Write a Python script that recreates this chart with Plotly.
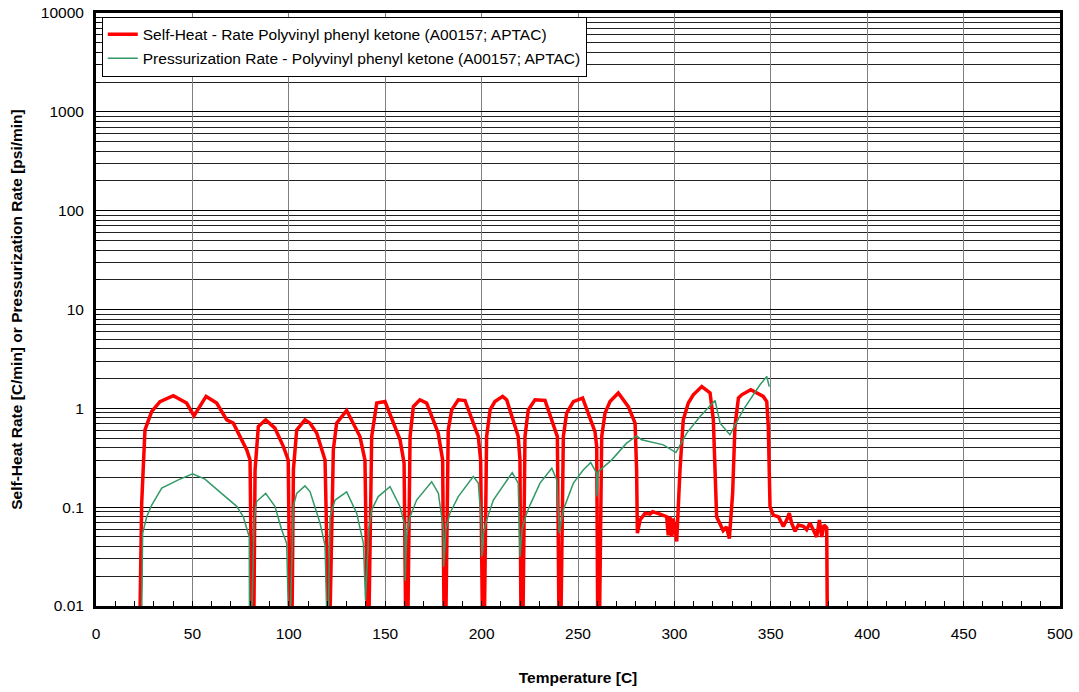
import plotly.graph_objects as go

# ---------------- data ----------------
heat_T = [22.8, 23.7, 25.4, 28.9, 33.2, 40.1, 47.0, 50.8, 57.1, 62.6, 67.8, 71.2, 78.2, 79.9, 80.8,
          81.9, 82.5, 84.2, 88.0, 92.8, 97.2, 99.7, 100.6,
          101.7, 102.4, 104.1, 108.4, 111.0, 114.5, 118.8, 120.5,
          121.4, 123.1, 124.8, 130.0, 136.9, 139.5, 140.7,
          141.6, 143.0, 145.6, 149.9, 157.7, 159.8, 160.6,
          161.8, 162.9, 164.6, 168.0, 171.5, 177.5, 179.8, 180.5,
          181.5, 182.7, 184.5, 187.9, 191.4, 198.3, 199.5, 200.4,
          201.5, 202.6, 204.4, 206.9, 210.9, 213.0, 219.0, 219.9, 220.4,
          221.5, 222.5, 224.2, 227.7, 232.9, 238.1, 239.3, 240.1,
          241.2, 242.4, 244.1, 247.6, 252.4, 258.8, 259.7, 260.2,
          261.2, 262.3, 264.0, 266.6, 270.9, 276.1, 279.6, 280.4, 280.8, 282.2, 284.8, 287.3,
          288.7, 292.5, 296.0, 296.8, 297.7, 298.6, 299.4, 301.2, 302.9, 304.6, 307.2, 309.8,
          314.2, 318.5, 320.2, 321.9, 323.7, 325.3, 327.0, 328.5, 330.2, 331.4, 333.2, 334.9,
          339.6, 346.1, 347.9, 348.7, 349.6, 351.3, 353.9, 356.5, 358.2, 359.6, 360.8, 362.6,
          364.3, 366.9, 368.6, 370.3, 372.0, 373.8, 375.2, 376.4, 377.6, 379.0, 379.3]
heat_rate = [0.008, 0.11, 0.606, 0.93, 1.17, 1.34, 1.13, 0.84, 1.32, 1.13, 0.765, 0.708, 0.38, 0.30, 0.008,
             0.008, 0.238, 0.655, 0.765, 0.63, 0.41, 0.30, 0.008,
             0.008, 0.24, 0.606, 0.765, 0.708, 0.561, 0.30, 0.008,
             0.008, 0.38, 0.708, 0.95, 0.518, 0.30, 0.008,
             0.008, 0.518, 1.13, 1.17, 0.48, 0.279, 0.008,
             0.008, 0.518, 1.04, 1.22, 1.13, 0.561, 0.30, 0.008,
             0.008, 0.606, 0.966, 1.22, 1.2, 0.518, 0.30, 0.008,
             0.008, 0.518, 0.966, 1.17, 1.32, 1.22, 0.518, 0.30, 0.008,
             0.008, 0.518, 0.966, 1.22, 1.2, 0.606, 0.518, 0.008,
             0.008, 0.518, 0.894, 1.17, 1.27, 0.582, 0.41, 0.008,
             0.008, 0.518, 0.894, 1.17, 1.43, 1.04, 0.708, 0.238, 0.0545, 0.074, 0.087, 0.085,
             0.090, 0.085, 0.080, 0.052, 0.080, 0.050, 0.077, 0.045, 0.238, 0.765, 1.13, 1.37,
             1.66, 1.43, 0.765, 0.080, 0.069, 0.058, 0.063, 0.048, 0.138, 0.655, 1.27, 1.37,
             1.54, 1.32, 1.17, 0.655, 0.101, 0.083, 0.080, 0.064, 0.074, 0.087, 0.069, 0.057,
             0.066, 0.064, 0.059, 0.069, 0.059, 0.050, 0.074, 0.050, 0.066, 0.062, 0.008]

press_T = [23.7, 24.2, 26.3, 28.9, 34.1, 42.7, 50.1, 56.5, 66.0, 73.0, 76.4, 79.5, 79.6,
           80.8, 82.0, 83.3, 88.0, 92.8, 96.3, 98.9, 99.8,
           100.8, 102.3, 104.1, 108.4, 111.0, 116.2, 118.8, 119.7,
           120.5, 121.4, 124.0, 130.0, 135.2, 138.7, 139.8,
           141.5, 143.0, 146.4, 152.5, 157.7, 160.3, 160.4,
           161.0, 162.9, 166.3, 174.1, 177.6, 180.2, 180.3,
           181.5, 183.6, 187.9, 195.7, 198.3, 200.0, 200.1,
           201.0, 202.6, 206.1, 215.9, 219.0, 219.9,
           221.0, 223.4, 225.1, 230.3, 236.4, 239.0, 240.3,
           242.4, 247.6, 252.7, 256.6, 259.7, 259.8, 260.5, 267.5, 275.2, 280.4, 283.0,
           287.3, 294.3, 300.8, 306.4, 313.3, 321.1, 323.7, 328.8, 335.7, 344.4, 347.9, 349.2]
press_rate = [0.008, 0.0545, 0.080, 0.105, 0.156, 0.189, 0.217, 0.192, 0.133, 0.102, 0.080, 0.050, 0.008,
              0.008, 0.074, 0.114, 0.138, 0.102, 0.059, 0.043, 0.008,
              0.008, 0.101, 0.138, 0.164, 0.144, 0.069, 0.041, 0.008,
              0.008, 0.080, 0.118, 0.143, 0.087, 0.043, 0.0115,
              0.06, 0.094, 0.128, 0.161, 0.101, 0.064, 0.018,
              0.05, 0.080, 0.118, 0.181, 0.138, 0.059, 0.025,
              0.06, 0.087, 0.128, 0.204, 0.175, 0.064, 0.0316,
              0.055, 0.074, 0.118, 0.224, 0.175, 0.0316,
              0.06, 0.087, 0.105, 0.175, 0.248, 0.189, 0.0545,
              0.094, 0.175, 0.238, 0.283, 0.22, 0.128, 0.229, 0.301, 0.444, 0.527, 0.48,
              0.461, 0.427, 0.357, 0.561, 0.826, 1.2, 0.708, 0.54, 0.966, 1.73, 2.1, 1.66]

x_ticks = [0, 50, 100, 150, 200, 250, 300, 350, 400, 450, 500]
y_ticks = [0.01, 0.1, 1, 10, 100, 1000, 10000]
y_ticktext = ["0.01", "0.1", "1", "10", "100", "1000", "10000"]

name_heat = "Self-Heat - Rate Polyvinyl phenyl ketone (A00157; APTAC)"
name_press = "Pressurization Rate - Polyvinyl phenyl ketone (A00157; APTAC)"

FONT = "Liberation Sans, Arial, sans-serif"
FS = 15.5

fig = go.Figure()
fig.add_trace(go.Scatter(x=heat_T, y=heat_rate, mode="lines", name=name_heat,
                         legendgroup="a", line=dict(color="#ff0000", width=3.5)))
fig.add_trace(go.Scatter(x=press_T, y=press_rate, mode="lines", name=name_press,
                         legendgroup="b", line=dict(color="#339966", width=1.5)))

fig.update_layout(
    width=1079, height=692,
    margin=dict(l=96, r=19, t=13, b=86),
    paper_bgcolor="white", plot_bgcolor="white",
    font=dict(family=FONT, size=FS, color="black"),
    showlegend=True,
    legend=dict(x=0.006, y=0.994, xanchor="left", yanchor="top",
                bgcolor="white", bordercolor="black", borderwidth=1,
                font=dict(family=FONT, size=FS, color="black"),
                traceorder="grouped", tracegroupgap=1, itemwidth=30),
    xaxis=dict(range=[0, 500], tickmode="array", tickvals=x_ticks, automargin=False,
               ticks="inside", ticklen=0, showgrid=True, gridcolor="#808080", gridwidth=1,
               showline=True, linecolor="black", linewidth=3, mirror=True,
               zeroline=False, ticklabelstandoff=11,
               minor=dict(dtick=10, ticks="inside", ticklen=5, tickcolor="black", showgrid=False),
               title=dict(text="<b>Temperature [C]</b>", standoff=32,
                          font=dict(family=FONT, size=FS))),
    xaxis2=dict(range=[0, 500], overlaying="x", dtick=100, tick0=0, automargin=False,
                showgrid=True, gridcolor="black", gridwidth=1,
                showticklabels=False, ticks="", showline=False, zeroline=False),
    yaxis=dict(type="log", range=[-2, 4], tickmode="array", tickvals=y_ticks, ticktext=y_ticktext,
               automargin=False,
               ticks="inside", ticklen=0, showgrid=True, gridcolor="black", gridwidth=1,
               showline=True, linecolor="black", linewidth=3, mirror=True,
               zeroline=False, ticklabelstandoff=6,
               minor=dict(dtick="D1", ticks="inside", ticklen=4, tickcolor="black",
                          showgrid=True, gridcolor="#222222", gridwidth=1),
               title=dict(text="<b>Self-Heat Rate [C/min] or Pressurization Rate [psi/min]</b>",
                          standoff=15, font=dict(family=FONT, size=FS))),
)

fig.write_html("out.html", config={"displayModeBar": False},
               post_script="document.body.style.margin='0';document.body.style.overflow='hidden';")
